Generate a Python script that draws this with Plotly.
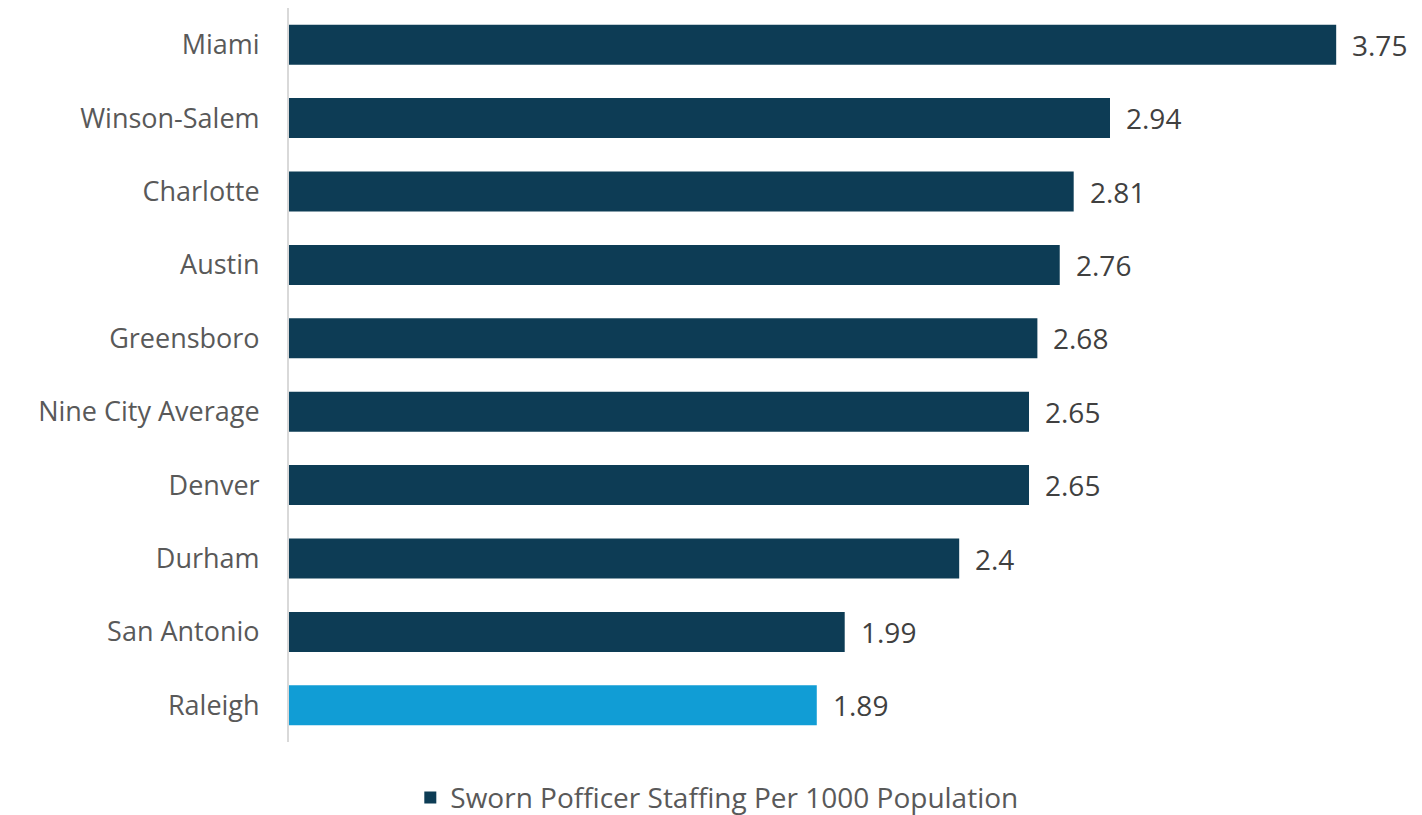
import plotly.graph_objects as go

cities = ["Miami", "Winson-Salem", "Charlotte", "Austin", "Greensboro",
          "Nine City Average", "Denver", "Durham", "San Antonio", "Raleigh"]
values = [3.75, 2.94, 2.81, 2.76, 2.68, 2.65, 2.65, 2.4, 1.99, 1.89]
labels = ["3.75", "2.94", "2.81", "2.76", "2.68", "2.65", "2.65", "2.4", "1.99", "1.89"]
series_name = "Sworn Pofficer Staffing Per 1000 Population"

dark = "#0D3C55"
highlight = "#119DD5"
colors = [highlight if c == "Raleigh" else dark for c in cities]

FONT = "Open Sans"

fig = go.Figure()
fig.add_trace(go.Bar(
    x=values, y=cities, orientation="h", name=series_name,
    marker=dict(color=colors, line=dict(width=0)),
    showlegend=True, hoverinfo="x+y",
))

for c, v, t in zip(cities, values, labels):
    fig.add_annotation(x=v, y=c, text=t, showarrow=False, xanchor="left",
                       xshift=14, font=dict(family=FONT, size=28, color="#404040"))

fig.update_layout(
    width=1422, height=815,
    margin=dict(l=289, r=16, t=8, b=73, autoexpand=False),
    paper_bgcolor="white", plot_bgcolor="white",
    bargap=0.455,
    font=dict(family=FONT, size=27, color="#595959"),
    xaxis=dict(range=[0, 4.0], visible=False, showgrid=False, zeroline=False),
    yaxis=dict(autorange="reversed", showline=True, linecolor="#d9d9d9", linewidth=2,
               ticks="", ticklabelstandoff=22, showgrid=False, automargin=False,
               tickfont=dict(family=FONT, size=27, color="#595959")),
    legend=dict(orientation="h", x=0.383, y=-0.076, xanchor="center", yanchor="middle",
                font=dict(family=FONT, size=28, color="#595959")),
)

fig.write_html("out.html", config={"displayModeBar": False},
               post_script="document.body.style.margin='0';document.body.style.padding='0';")
